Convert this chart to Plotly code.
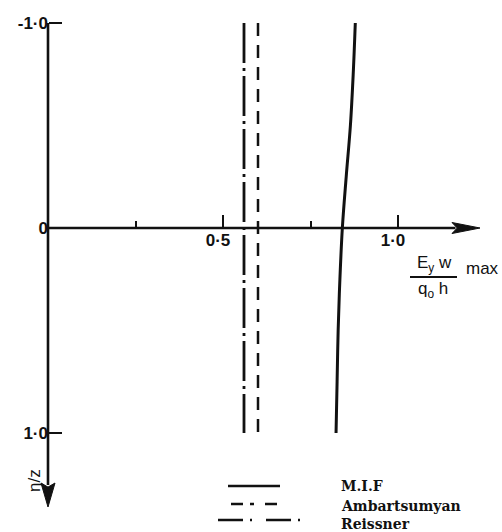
import plotly.graph_objects as go

# Maximum deflection E_y w / (q_o h) across the thickness coordinate eta/z
eta = [-1.0, -0.75, -0.5, -0.25, 0.0, 0.25, 0.5, 0.75, 1.0]
mif_w = [0.878, 0.872, 0.864, 0.852, 0.841, 0.834, 0.829, 0.826, 0.823]
ambartsumyan_eta = [-1.0, 1.0]
ambartsumyan_w = [0.60, 0.60]
reissner_eta = [-1.0, 1.0]
reissner_w = [0.56, 0.56]

x_tickvals = [0.5, 1.0]
x_ticktext = ["0·5", "1·0"]
x_minor_ticks = [0.25, 0.75]
y_tickvals = [-1.0, 0.0, 1.0]
y_ticktext = ["-1·0", "0", "1·0"]
legend_names = ["M.I.F", "Ambartsumyan", "Reissner"]

W, H = 502, 532
INK = "#111111"

# axis ranges and the plotting box (pixels)
x_range = [-0.08, 1.2743]
y_range = [1.40, -1.0537]          # eta increases downwards
mar = dict(l=20, r=8, t=12, b=17)
plot_w = W - mar["l"] - mar["r"]
plot_h = H - mar["t"] - mar["b"]

def px_to_paper(px, py):
    return (px - mar["l"]) / plot_w, (H - mar["b"] - py) / plot_h

x_axis_pos = (y_range[0] - 0.0) / (y_range[0] - y_range[1])
y_axis_pos = (0.0 - x_range[0]) / (x_range[1] - x_range[0])

fig = go.Figure()
fig.add_trace(go.Scatter(x=mif_w, y=eta, mode="lines", name=legend_names[0],
                         line=dict(color=INK, width=3, shape="spline")))
fig.add_trace(go.Scatter(x=ambartsumyan_w, y=ambartsumyan_eta, mode="lines",
                         name=legend_names[1],
                         line=dict(color=INK, width=2.5, dash="13px,9px")))
fig.add_trace(go.Scatter(x=reissner_w, y=reissner_eta, mode="lines",
                         name=legend_names[2],
                         line=dict(color=INK, width=2.8, dash="40px,5px,3px,5px")))

tick_font = dict(family="Liberation Sans", size=17, color=INK, weight="bold")

fig.update_layout(
    width=W, height=H, margin=mar,
    paper_bgcolor="white", plot_bgcolor="white",
    showlegend=False,
    xaxis=dict(range=x_range, anchor="free", position=x_axis_pos,
               showgrid=False, zeroline=False, showline=False,
               tickmode="array", tickvals=x_tickvals, ticktext=x_ticktext,
               ticks="inside", ticklen=13, tickwidth=2, tickcolor=INK,
               tickfont=tick_font, ticklabelshift=-5,
               minor=dict(tickmode="array", tickvals=x_minor_ticks,
                          ticks="inside", ticklen=7, tickwidth=2,
                          tickcolor=INK, showgrid=False)),
    yaxis=dict(range=y_range, anchor="free", position=y_axis_pos,
               showgrid=False, zeroline=False, showline=False,
               tickmode="array", tickvals=y_tickvals, ticktext=y_ticktext,
               ticks="inside", ticklen=13, tickwidth=2, tickcolor=INK,
               tickfont=tick_font),
)

# axis lines with arrowheads
x_tip, x_base = (480 - 48) / 350, (452 - 48) / 350
y_tip, y_base = (507 - 228) / 205, (483 - 228) / 205
hx = 5.5 / 205   # half-width of x arrowhead in eta units
hy = 7.0 / 350   # half-width of y arrowhead in w units
fig.add_shape(type="line", x0=0, y0=0, x1=x_base + 0.01, y1=0,
              line=dict(color=INK, width=2.6))
fig.add_shape(type="line", x0=0, y0=-1.0, x1=0, y1=y_base + 0.01,
              line=dict(color=INK, width=2.6))
fig.add_shape(type="path", fillcolor=INK, line=dict(color=INK, width=1),
              path=f"M {x_tip},0 L {x_base},{-hx} L {x_base + 0.015},0 L {x_base},{hx} Z")
fig.add_shape(type="path", fillcolor=INK, line=dict(color=INK, width=1),
              path=f"M 0,{y_tip} L {-hy},{y_base} L 0,{y_base + 0.02} L {hy},{y_base} Z")

# quantity label on the horizontal axis: E_y w / (q_o h)  max
lab_font = dict(family="Liberation Sans", size=17, color=INK)
nx, ny = px_to_paper(434, 264)
dx, dy = px_to_paper(433, 290)
fx0, fy = px_to_paper(410, 277)
fx1, _ = px_to_paper(457, 277)
mx, my = px_to_paper(464, 268)
fig.add_annotation(x=nx, y=ny, xref="paper", yref="paper", showarrow=False,
                   xanchor="center", yanchor="middle",
                   text="E<sub>y</sub> w", font=lab_font)
fig.add_annotation(x=dx, y=dy, xref="paper", yref="paper", showarrow=False,
                   xanchor="center", yanchor="middle",
                   text="q<sub>o</sub> h", font=lab_font)
fig.add_shape(type="line", xref="paper", yref="paper", x0=fx0, x1=fx1,
              y0=fy, y1=fy, line=dict(color=INK, width=2))
fig.add_annotation(x=mx, y=my, xref="paper", yref="paper", showarrow=False,
                   xanchor="left", yanchor="middle", text="max", font=lab_font)

# vertical axis label
vx, vy = px_to_paper(34, 481)
fig.add_annotation(x=vx, y=vy, xref="paper", yref="paper", showarrow=False,
                   xanchor="center", yanchor="middle",
                   text="η/z", textangle=-90, font=lab_font)

# key
key_rows = [
    (legend_names[0], 228, 280, 486, "solid", 2.6, 486),
    (legend_names[1], 231, 280, 504, "12px,7px,4px,11px", 2.6, 506),
    (legend_names[2], 218, 300, 520, "25px,7px,2px,14px", 2.6, 524),
]
key_font = dict(family="DejaVu Serif", size=14, color=INK, weight="bold")
for name, x0p, x1p, yp, dash, lw, ty in key_rows:
    a0, b0 = px_to_paper(x0p, yp)
    a1, _ = px_to_paper(x1p, yp)
    fig.add_shape(type="line", xref="paper", yref="paper", x0=a0, x1=a1,
                  y0=b0, y1=b0, line=dict(color=INK, width=lw, dash=dash))
    tx, tyy = px_to_paper(339, ty)
    fig.add_annotation(x=tx, y=tyy, xref="paper", yref="paper", showarrow=False,
                       xanchor="left", yanchor="middle", text=name, font=key_font)

fig.write_html("out.html")
